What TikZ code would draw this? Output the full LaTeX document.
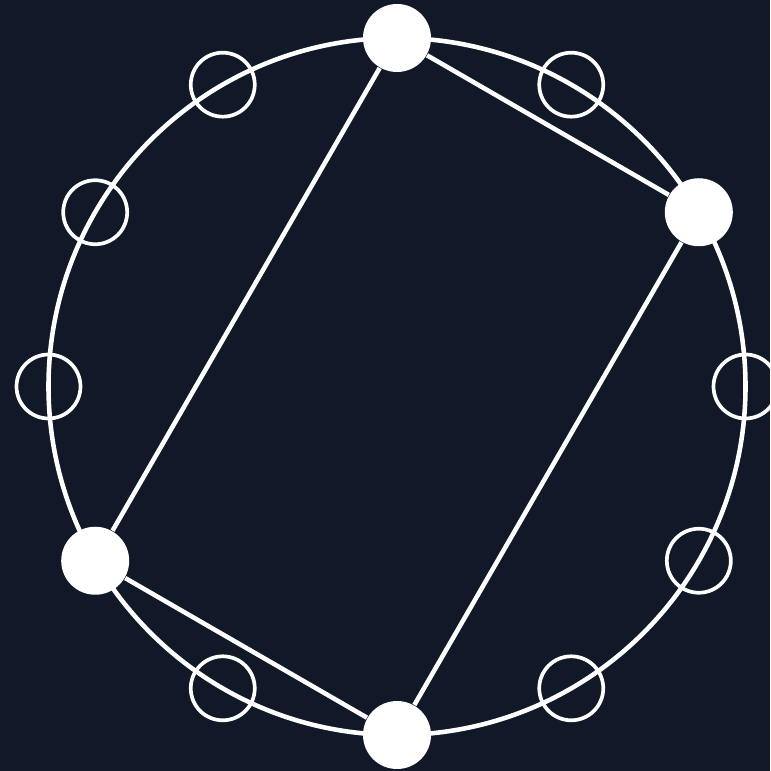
\documentclass[tikz,border=0pt]{standalone}
\usepackage{tikz}
\usetikzlibrary{positioning,calc}
\definecolor{NightBg}{RGB}{17,24,39}
\tikzset{
	ring/.style={draw=white,line width=1.3pt},
	hole/.style={circle,draw=white,line width=1.05pt,minimum size=0.64cm,inner sep=0pt},
	dot/.style={circle,fill=white,minimum size=0.68cm,inner sep=0pt},
	chord/.style={draw=white,line width=1.3pt},
}

\begin{document}
\begin{tikzpicture}
	\fill[NightBg] (0,0) rectangle (7.70,7.71);
	\useasboundingbox (0,0) rectangle (7.70,7.71);
	\coordinate (c) at (3.97,3.845);
	\draw[ring] (c) circle (3.485);
	% empty slots on the ring
	\foreach \a in {0,60,120,150,180,240,300,330}
	\node[hole] (h\a) at ($(c)+(\a:3.485)$) {};
	% filled slots
	\foreach \a in {30,90,210,270}
	\node[dot] (d\a) at ($(c)+(\a:3.485)$) {};
	\draw[chord] (d90)--(d30);
	\draw[chord] (d90)--(d210);
	\draw[chord] (d30)--(d270);
	\draw[chord] (d210)--(d270);
\end{tikzpicture}
\end{document}
